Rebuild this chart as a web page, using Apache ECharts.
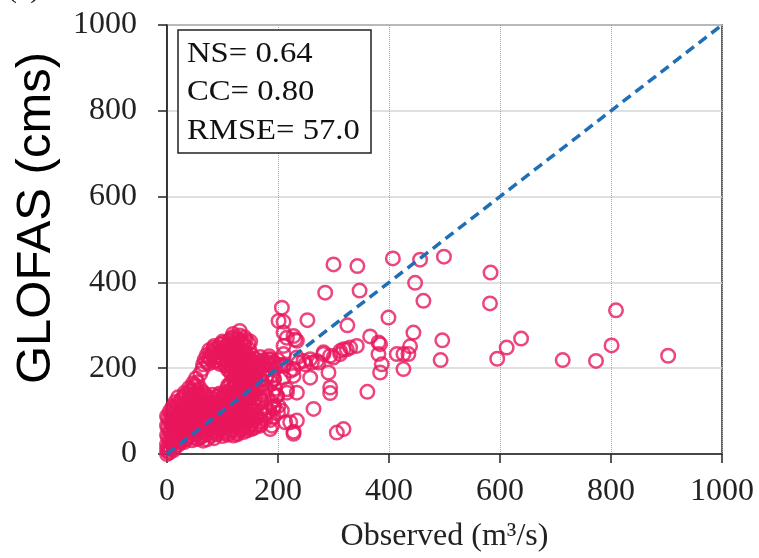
<!DOCTYPE html>
<html>
<head>
<meta charset="utf-8">
<script src="https://cdn.jsdelivr.net/npm/echarts@6/dist/echarts.min.js"></script>
<style>
html,body{margin:0;padding:0;background:#fff;}
#chart{width:759px;height:558px;}
</style>
</head>
<body>
<div id="chart"></div>
<script>
// ---- data: [observed (m³/s), GLOFAS (cms)] ----
const coreLow = [
 [0,0],[4,3],[2,6],
 [0,11],[6,13],[12,9],
 [0,22],[9,24],[19,20],[24,26],
 [5,33],[15,35],[25,31],[35,34],[45,32],[55,35],[65,31],[72,34],
 [0,44],[10,46],[20,42],[30,45],[40,43],[50,46],[60,42],[70,45],[80,43],[90,46],[100,42],[110,45],[120,43],[127,46],
 [5,55],[15,57],[25,53],[35,56],[45,54],[55,57],[65,53],[75,56],[85,54],[95,57],[105,53],[115,56],[125,54],[135,57],[145,55],[152,58],
 [0,66],[10,68],[20,64],[30,67],[40,65],[50,68],[60,64],[70,67],[80,65],[90,68],[100,64],[110,67],[120,65],[130,68],[140,64],[150,67],[160,66],[168,69],
 [5,77],[15,79],[25,75],[35,78],[45,76],[55,79],[65,75],[75,78],[85,76],[95,79],[105,75],[115,78],[125,76],[135,79],[145,75],[155,78],[170,76],[186,79]
];
const coreLowExtra = [
 [3,17],[14,18],[8,28],[20,29],[31,28],[2,38],[12,39],[24,38],[36,39],[48,38],[60,38],[85,37],
 [6,50],[18,50],[30,49],[42,50],[54,49],[66,50],[78,49],[90,50],[102,49],[114,50],[126,49],[138,51],
 [2,61],[14,61],[26,60],[38,61],[50,60],[62,61],[74,60],[86,61],[98,60],[110,61],[122,60],[134,61],[146,61],[157,61],
 [8,72],[20,72],[32,71],[44,72],[56,71],[68,72],[80,71],[92,72],[104,71],[116,72],[128,71],[140,72],[152,71],
 [2,83],[14,83],[26,82],[38,83],[50,82],[62,83],[74,82],[86,83],[98,82],[110,83],[122,82],[134,83],[146,82],[160,83]
];
const coreMid = [
 [0,88],[10,90],[20,86],[30,89],[40,87],[50,90],[60,86],[70,89],[80,87],[90,90],[100,86],[110,89],[120,87],[130,90],[140,86],[150,89],[160,87],[176,90],[192,86],
 [5,99],[15,101],[25,97],[35,100],[45,98],[55,101],[65,97],[75,100],[85,98],[95,101],[105,97],[115,100],[125,98],[135,101],[145,97],[155,100],[168,98],[184,101],[200,97],
 [10,110],[20,112],[30,108],[40,111],[50,109],[60,112],[70,108],[80,111],[90,109],[100,112],[110,108],[120,111],[130,109],[140,112],[150,108],[160,111],[177,109],[193,112],
 [15,121],[25,123],[35,119],[45,122],[55,120],[65,123],[75,119],[85,122],[95,120],[105,123],[115,119],[125,122],[135,120],[145,123],[155,119],[170,122],[188,120],
 [20,132],[30,134],[40,130],[50,133],[60,131],[70,134],[80,130],[90,133],[100,131],[110,134],[120,130],[130,133],[140,131],[150,134],[160,130],[180,133],[198,136],
 [32,143],[45,145],[55,141],[65,144],[95,141],[105,144],[115,142],[125,145],[135,141],[145,144],[155,142],[172,145],[190,141],
 [40,154],[50,156],[60,152],[110,155],[120,153],[130,156],[140,152],[150,155],[160,153],[178,156],[195,152],
 [47,165],[55,167],[115,166],[125,164],[135,167],[145,163],[155,166],[170,164],[188,167]
];
const coreMidExtra = [
 [8,94],[20,94],[32,93],[44,94],[56,93],[68,94],[80,93],[92,94],[104,93],[116,94],[128,93],[140,94],[152,93],
 [12,105],[24,105],[36,104],[48,105],[60,104],[72,105],[84,104],[96,105],[108,104],[120,105],[132,104],[144,105],[156,104],
 [18,116],[30,116],[42,115],[54,116],[66,115],[78,116],[90,115],[102,116],[114,115],[126,116],[138,115],[150,116],
 [26,127],[38,127],[50,126],[62,127],[74,126],[86,127],[98,126],[110,127],[122,126],[134,127],[146,126],
 [34,138],[46,138],[58,137],[70,138],[82,138],[94,137],[106,137],[118,138],[130,137],[142,138],[154,137]
];
const coreUpper = [
 [52,176],[120,174],[130,177],[140,175],[150,178],[160,174],[178,177],[193,175],
 [60,187],[115,189],[125,185],[135,188],[145,186],[155,189],[172,187],[190,185],
 [64,198],[110,196],[120,199],[130,197],[140,200],[150,196],[160,199],[178,197],[195,200],
 [65,209],[75,211],[95,210],[105,208],[115,211],[125,207],[135,210],[145,208],[155,211],[165,207],[175,210],[185,208],[195,211],[205,207],
 [68,220],[78,222],[88,218],[98,221],[108,219],[118,222],[128,218],[138,221],[148,219],[158,222],[172,218],[186,221],[200,219],
 [72,231],[83,233],[93,229],[103,232],[113,230],[123,233],[133,229],[143,232],[153,230],[168,226],[184,228],
 [76,242],[88,244],[98,240],[108,243],[118,241],[128,244],[138,240],[148,243],
 [85,252],[97,256],[107,252],[117,255],[127,253],[137,256],[147,258],
 [100,262],[112,264],[122,267],[132,263],[142,266],[150,262],
 [120,273],[131,276],[140,272],[119,280],[131,287]
];
const coreUpperExtra = [
 [43,149],[55,149],[115,150],[127,149],[139,150],[151,149],[163,150],
 [50,160],[110,160],[122,161],[134,160],[146,161],[158,160],
 [122,172],[134,171],[146,172],[158,171],[170,172],
 [122,183],[134,182],[146,183],[158,182],
 [116,194],[128,193],[140,194],[152,193],[164,194],
 [106,205],[118,204],[130,205],[142,204],[154,205],[166,204],
 [72,215],[84,215],[96,214],[108,215],[120,214],[132,215],[144,214],[156,215],[168,214],[180,215],[192,214],
 [76,226],[88,226],[100,225],[112,226],[124,225],[136,226],[148,225],
 [80,237],[92,237],[104,236],[116,237],[128,236],[140,237],
 [84,247],[94,249],[104,248],[116,249],[128,248],[140,249],
 [102,259],[114,258],[126,260],[138,259],
 [116,270],[128,269]
];
const spreadPoints = [
 [168,128],[177,81],[186,58],[192,105],[198,136],[201,112],[180,182],[192,174],[183,221],[210,205],[189,66],[180,97],[168,66],
 [207,341],[201,310],[210,308],[253,312],[231,267],[228,275],[234,264],[216,271],[210,252],[210,283],[210,233],[212,209],[210,178],
 [282,237],[294,229],[312,240],[324,244],[258,221],[270,217],[234,225],[246,217],[222,194],[228,182],[216,151],[234,143],
 [222,74],[234,78],[228,47],[306,50],[318,58],[294,155],[264,105],[207,101],[213,74],[228,52],
 [366,274],[381,260],[384,256],[381,233],[387,209],[384,190],[414,233],[426,233],[435,233],[438,251],[426,198],
 [342,252],[330,248],[318,244],[312,233],[300,225],[282,233],[273,213],[261,213],[249,209],[237,213],[228,198],
 [258,178],[291,190],[294,142],[361,145],[216,143],
 [325,300],[399,318],[444,283],[496,265],[493,219],[285,376],[347,381],[447,399],[462,357],
 [300,442],[343,438],[407,456],[456,453],[499,460]
];
const farPoints = [
 [583,423],[582,351],[595,222],[612,248],[638,269],[713,219],[773,217],[801,253],[809,335],[903,229]
];
const oneToOne = [[0,0],[1000,1000]];
const statLines = ['NS= 0.64', 'CC= 0.80', 'RMSE= 57.0'];
const xName = 'Observed (m³/s)';
const yName = 'GLOFAS (cms)';
const panelTag = '(a)';

const serif = '"Liberation Serif", "Times New Roman", serif';
const allPoints = [].concat(coreLow, coreLowExtra, coreMid, coreMidExtra, coreUpper, coreUpperExtra, spreadPoints, farPoints);

const chart = echarts.init(document.getElementById('chart'), null, {renderer: 'canvas'});
const statTexts = statLines.map((t, i) => ({
  type: 'text', z: 101, x: 187, y: 54 + i * 38.5, scaleX: 1.09,
  style: { text: t, x: 0, y: 0, font: '30px ' + serif, fill: '#111',
           textAlign: 'left', textVerticalAlign: 'middle', align: 'left', verticalAlign: 'middle' }
}));
chart.setOption({
  animation: false,
  backgroundColor: '#fff',
  grid: { left: 167, right: 37, top: 25, bottom: 103, show: true, borderColor: '#333', borderWidth: 1.5, backgroundColor: 'transparent' },
  xAxis: {
    type: 'value', min: 0, max: 1000, interval: 200,
    name: xName, nameLocation: 'middle', nameGap: 67,
    nameTextStyle: { fontFamily: serif, fontSize: 32, color: '#222' },
    axisLine: { onZero: false, lineStyle: { color: '#222', width: 1.5 } },
    axisTick: { show: true, inside: false, length: 9, lineStyle: { color: '#222', width: 1.5 } },
    axisLabel: { fontFamily: serif, fontSize: 32, color: '#222', margin: 22, formatter: v => String(v) },
    splitLine: { show: true, lineStyle: { color: '#a8a8a8', type: 'dotted', width: 1 } }
  },
  yAxis: {
    type: 'value', min: 0, max: 1000, interval: 200,
    axisLine: { show: true, onZero: false, lineStyle: { color: '#222', width: 1.5 } },
    axisTick: { show: true, inside: false, length: 9, lineStyle: { color: '#222', width: 1.5 } },
    axisLabel: { fontFamily: serif, fontSize: 32, color: '#222', margin: 30, formatter: v => String(v) },
    splitLine: { show: true, lineStyle: { color: '#d6d6d6', type: 'solid', width: 1.5 } }
  },
  series: [
    {
      type: 'scatter', data: allPoints, symbol: 'circle', symbolSize: 13.5, clip: false,
      itemStyle: { color: 'transparent', borderColor: '#E8175D', borderWidth: 2.5 },
      emphasis: { disabled: true }, z: 2
    },
    {
      type: 'line', data: oneToOne, symbol: 'none', clip: false,
      lineStyle: { color: '#1f6fb6', width: 3.5, type: [10, 6] }, z: 3
    }
  ],
  graphic: [
    { type: 'rect', z: 100, shape: { x: 178, y: 30, width: 193, height: 123 },
      style: { fill: '#fff', stroke: '#222', lineWidth: 1.5 } },
    ...statTexts,
    { type: 'text', z: 100, x: 36, y: 218, rotation: Math.PI / 2,
      style: { text: yName, font: '49px "Liberation Sans", Arial, sans-serif', fill: '#000',
               textAlign: 'center', textVerticalAlign: 'middle', align: 'center', verticalAlign: 'middle' } },
    { type: 'text', z: 100,
      style: { text: panelTag, x: 7, y: -11, font: '30px ' + serif, fill: '#222',
               textAlign: 'left', textVerticalAlign: 'middle', align: 'left', verticalAlign: 'middle' } }
  ]
});
</script>
</body>
</html>
